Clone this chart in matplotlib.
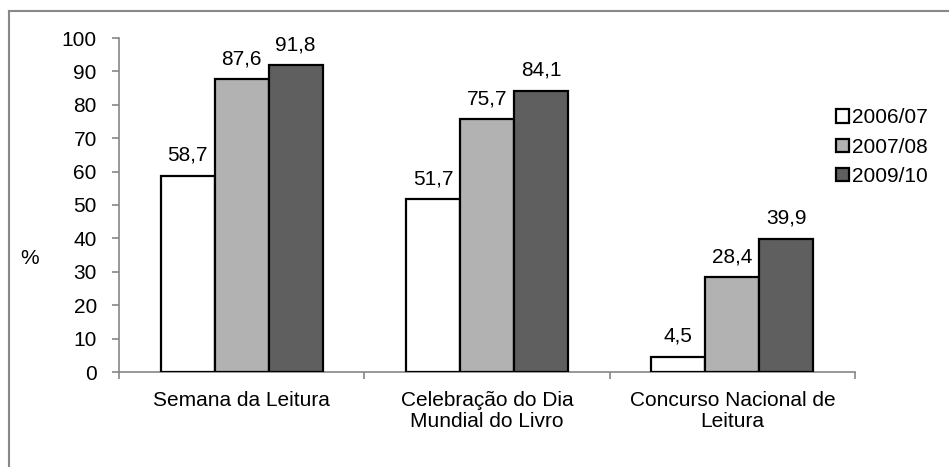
import matplotlib
matplotlib.use("Agg")
import matplotlib.pyplot as plt
import numpy as np
from matplotlib.lines import Line2D

categories = ["Semana da Leitura", "Celebração do Dia\nMundial do Livro", "Concurso Nacional de\nLeitura"]
series_names = ["2006/07", "2007/08", "2009/10"]
v2006 = [58.7, 51.7, 4.5]
v2007 = [87.6, 75.7, 28.4]
v2009 = [91.8, 84.1, 39.9]
colors = ["#ffffff", "#b2b2b2", "#5f5f5f"]
y_ticks = [0, 10, 20, 30, 40, 50, 60, 70, 80, 90, 100]

plt.rcParams['font.family'] = ['Liberation Sans', 'DejaVu Sans']
FS = 15

fig = plt.figure(figsize=(9.49, 4.67), dpi=100)
ax = fig.add_axes([119/949, 1-372/467, (855-119)/949, (372-38)/467])

x = np.arange(len(categories))
w = 0.22
for i, (vals, c, name) in enumerate(zip([v2006, v2007, v2009], colors, series_names)):
    bars = ax.bar(x + (i-1)*w, vals, w, color=c, edgecolor="black", linewidth=1.6, label=name, zorder=3)
    for b, v in zip(bars, vals):
        ax.annotate(f"{v:.1f}".replace(".", ","), (b.get_x()+b.get_width()/2, v),
                    xytext=(0, 8), textcoords="offset points", ha="center", va="bottom", fontsize=FS)

ax.set_xlim(-0.5, 2.5)
ax.set_ylim(0, 100)
ax.set_yticks(y_ticks)
ax.set_xticks(x)
ax.set_xticklabels(categories, fontsize=FS, linespacing=1.1, va="top")
ax.set_xticks([-0.5, 0.5, 1.5, 2.5], minor=True)
ax.tick_params(axis="x", which="major", length=0, pad=14)
ax.tick_params(axis="x", which="minor", length=5, color="#868686", width=1.2)
ax.tick_params(axis="y", length=5, color="#868686", width=1.2, labelsize=FS, pad=11)
for s in ["top", "right"]:
    ax.spines[s].set_visible(False)
for s in ["left", "bottom"]:
    ax.spines[s].set_color("#868686")
    ax.spines[s].set_linewidth(1.2)

fig.text(30/949, 1-258/467, "%", fontsize=FS, ha="center", va="center")

leg = fig.legend(loc="upper left", bbox_to_anchor=(828/949, 1-100/467), frameon=False,
                 fontsize=FS, handlelength=0.6, handleheight=0.6, handletextpad=0.15,
                 labelspacing=0.5, borderaxespad=0)

# outer chart border (top and left visible)
fig.add_artist(Line2D([8.5/949, 1.0], [1-10.5/467, 1-10.5/467], transform=fig.transFigure, color="#888888", lw=1.5))
fig.add_artist(Line2D([8.5/949, 8.5/949], [1-10.5/467, 0.0], transform=fig.transFigure, color="#888888", lw=1.5))

fig.savefig("out.png", dpi=100)
